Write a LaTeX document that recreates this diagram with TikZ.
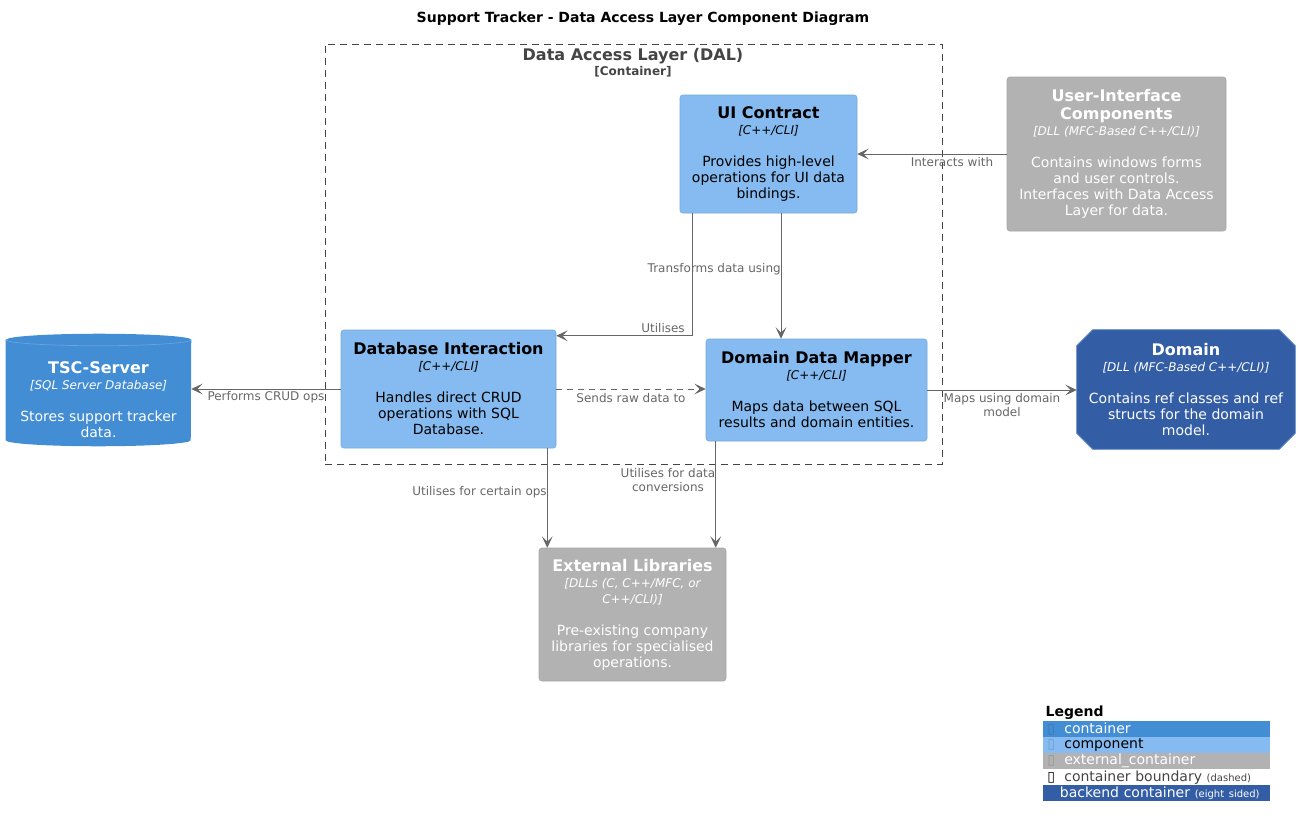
\documentclass[tikz,border=0pt]{standalone}
\usepackage{fontspec}
\setmainfont{DejaVu Sans}
\usetikzlibrary{arrows.meta,backgrounds,calc}
\definecolor{contblue}{HTML}{438DD5}
\definecolor{compblue}{HTML}{85BBF0}
\definecolor{compline}{HTML}{78A8D8}
\definecolor{extgray}{HTML}{B2B2B2}
\definecolor{extline}{HTML}{A6A6A6}
\definecolor{backblue}{HTML}{335DA5}
\definecolor{backline}{HTML}{5A83C6}
\definecolor{relgray}{HTML}{666666}
\definecolor{bndgray}{HTML}{444444}
\newcommand{\ttl}[1]{{\fontsize{12}{12}\selectfont\bfseries #1}}
\newcommand{\tch}[1]{{\fontsize{9}{9}\selectfont\itshape #1}}
\tikzset{
    elem/.style={rounded corners=2pt, align=center, inner sep=0pt, font=\fontsize{10.5}{12}\selectfont},
    compbox/.style={elem, fill=compblue, draw=compline, text=black},
    extbox/.style={elem, fill=extgray, draw=extline, text=white},
    rel/.style={draw=relgray, line width=0.75pt, -{Stealth[length=8.5pt,width=8pt,inset=4pt]}},
    lbl/.style={text=relgray, align=center, inner sep=0pt, font=\fontsize{9}{11}\selectfont},
    legrow/.style={anchor=north west, minimum width=170.25pt, minimum height=12pt, inner xsep=3pt, inner ysep=0pt,
        text width=164.25pt, align=left, font=\fontsize{10.5}{12}\selectfont},
}
\begin{document}
\begin{tikzpicture}[x=0.75pt, y=-0.75pt]
    \useasboundingbox (0,0) rectangle (1300,828);
    \node[font=\fontsize{10.5}{12}\selectfont\bfseries] (title) at (643,19) {Support Tracker - Data Access Layer Component Diagram};

    \node[draw=bndgray, dash pattern=on 5.25pt off 3.75pt, line width=0.6pt, minimum width=462.75pt, minimum height=315pt] (dal) at (633.5,254) {};
    \node[text=bndgray, font=\fontsize{12}{12}\selectfont\bfseries] (dalname) at (633,56) {Data Access Layer (DAL)};
    \node[text=bndgray, font=\fontsize{9}{9}\selectfont\bfseries] (daltype) at (633,72) {[Container]};

    \node[compbox, minimum width=132.75pt, minimum height=88.5pt] (uic) at (768.5,154)
        {\ttl{UI Contract}\\\tch{[C++/CLI]}\\[12pt]Provides high-level\\operations for UI data\\bindings.};
    \node[extbox, minimum width=164.25pt, minimum height=115.5pt] (uiext) at (1116.5,154)
        {\ttl{User-Interface}\\[1.5pt]\ttl{Components}\\\tch{[DLL (MFC-Based C++/CLI)]}\\[12pt]Contains windows forms\\and user controls.\\Interfaces with Data Access\\Layer for data.};
    \node[compbox, minimum width=161.25pt, minimum height=88.5pt] (dbi) at (448.5,389)
        {\ttl{Database Interaction}\\\tch{[C++/CLI]}\\[12pt]Handles direct CRUD\\operations with SQL\\Database.};
    \node[compbox, minimum width=165.75pt, minimum height=76.5pt] (ddm) at (816.5,390)
        {\ttl{Domain Data Mapper}\\\tch{[C++/CLI]}\\[12pt]Maps data between SQL\\results and domain entities.};
    \node[elem, text=white, minimum width=138.75pt, minimum height=84pt] (tsc) at (98.5,390)
        {\rule{0pt}{24pt}\ttl{TSC-Server}\\\tch{[SQL Server Database]}\\[12pt]Stores support tracker\\data.};
    \node[elem, text=white, minimum width=163.5pt, minimum height=89.25pt] (dom) at (1186,389.5)
        {\ttl{Domain}\\\tch{[DLL (MFC-Based C++/CLI)]}\\[12pt]Contains ref classes and ref\\structs for the domain\\model.};
    \node[extbox, minimum width=140.25pt, minimum height=99.75pt] (ext) at (632.5,614.5)
        {\ttl{External Libraries}\\\tch{[DLLs (C, C++/MFC, or}\\\tch{C++/CLI)]}\\[12pt]Pre-existing company\\libraries for specialised\\operations.};

    \begin{scope}[on background layer]
        \fill[contblue] ([yshift=-4.5pt]tsc.north west) -- ([yshift=4.5pt]tsc.south west)
            arc[start angle=180, end angle=360, x radius=69.375pt, y radius=4.5pt]
            -- ([yshift=-4.5pt]tsc.north east)
            arc[start angle=0, end angle=180, x radius=69.375pt, y radius=4.5pt] -- cycle;
        \draw[draw=contblue!80!white, line width=0.5pt] ([yshift=-4.5pt]tsc.north west)
            arc[start angle=180, end angle=360, x radius=69.375pt, y radius=4.5pt];
        \filldraw[fill=backblue, draw=backline, line width=0.6pt] ([xshift=12pt]dom.north west) -- ([xshift=-12pt]dom.north east)
            -- ([yshift=-12pt]dom.north east) -- ([yshift=12pt]dom.south east) -- ([xshift=-12pt]dom.south east)
            -- ([xshift=12pt]dom.south west) -- ([yshift=12pt]dom.south west) -- ([yshift=-12pt]dom.north west) -- cycle;
    \end{scope}

    \draw[rel] (uiext.west) -- (uiext.west -| uic.east);
    \node[lbl] (lInteracts) at (952,162) {Interacts with};
    \draw[rel] ([xshift=9.75pt]uic.south west) |- ([yshift=-4.5pt]dbi.north east);
    \node[lbl, anchor=east] (lUtilises) at (685,328) {Utilises};
    \draw[rel] ([xshift=9.375pt]uic.south) -- ([xshift=9.375pt]uic.south |- ddm.north);
    \node[lbl, anchor=east] (lTransforms) at (781,269) {Transforms data using};
    \draw[rel] (dbi.west) -- (dbi.west -| tsc.east);
    \node[lbl] (lCrud) at (266,397) {Performs CRUD ops};
    \draw[rel, dashed, dash pattern=on 4.5pt off 3.75pt] (dbi.east) -- (dbi.east -| ddm.west);
    \node[lbl] (lSends) at (631,398) {Sends raw data to};
    \draw[rel] (ddm.east) -- (ddm.east -| dom.west);
    \node[lbl] (lMaps) at (1002,405) {Maps using domain\\model};
    \draw[rel] ([xshift=-6.75pt]dbi.south east) -- ([xshift=-6.75pt]dbi.south east |- ext.north);
    \node[lbl, anchor=east] (lCertain) at (547,492) {Utilises for certain ops};
    \draw[rel] ([xshift=7.5pt]ddm.south west) -- ([xshift=7.5pt]ddm.south west |- ext.north);
    \node[lbl] (lConv) at (668,480) {Utilises for data\\conversions};

    \node[anchor=west, font=\fontsize{10.5}{12}\selectfont\bfseries] (legtitle) at (1041,713) {Legend};
    \node[legrow, fill=contblue, text=white] (lgCont) at (1043,721) {\textcolor{contblue!85!black}{▯}\hspace{3.5pt} container};
    \node[legrow, fill=compblue, text=black] (lgComp) at (1043,737) {\textcolor{compblue!85!black}{▯}\hspace{3.5pt} component};
    \node[legrow, fill=extgray, text=white] (lgExt) at (1043,753) {\textcolor{extgray!85!black}{▯}\hspace{3.5pt} external\_container};
    \node[legrow, text=bndgray] (lgBnd) at (1043,769) {\textcolor{black}{▯}\hspace{3.5pt} container boundary {\fontsize{7.5}{9}\selectfont(dashed)}};
    \node[legrow, fill=backblue, text=white] (lgBack) at (1043,785) {\hspace{9.5pt}backend container {\fontsize{7.5}{9}\selectfont(eight sided)}};
\end{tikzpicture}
\end{document}
